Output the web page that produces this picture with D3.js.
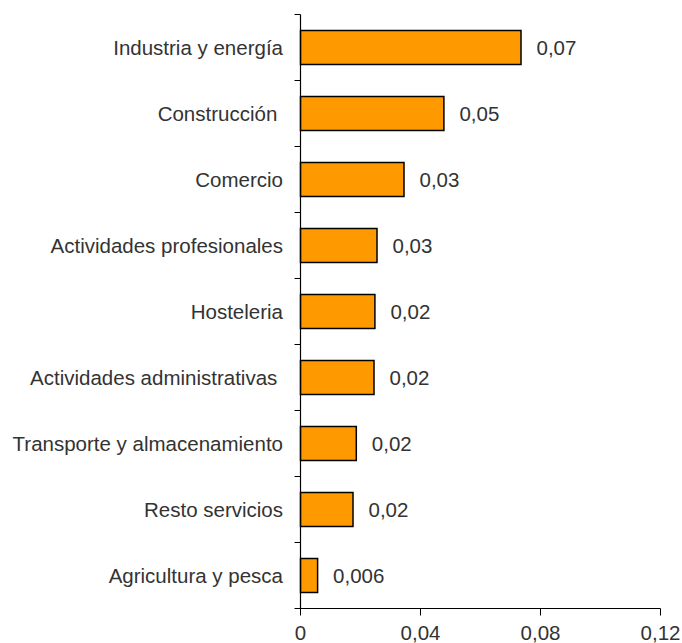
<!DOCTYPE html>
<html><head><meta charset="utf-8">
<script src="https://cdn.jsdelivr.net/npm/d3@7"></script>
<style>body{margin:0;background:#fff}svg{display:block}text{white-space:pre}</style>
</head><body><svg id="c" width="682" height="643"></svg>
<script>
const categories = ["Industria y energía","Construcción ","Comercio","Actividades profesionales","Hosteleria","Actividades administrativas ","Transporte y almacenamiento","Resto servicios","Agricultura y pesca"];
const values = [0.0735,0.0478,0.0345,0.0255,0.0248,0.0245,0.0186,0.0175,0.0057];
const valueLabels = ["0,07","0,05","0,03","0,03","0,02","0,02","0,02","0,02","0,006"];
const xTicks = [0,0.04,0.08,0.12];
const xTickLabels = ["0","0,04","0,08","0,12"];

const svg = d3.select("#c");
const font = "Liberation Sans, Arial, sans-serif";
const fs = 20.5;
const col = "#333";
const x = d3.scaleLinear().domain([0,0.12]).range([300.5,660.5]);
const y = d3.scaleBand().domain(categories).range([14.5,608.5]).paddingInner(0.485).paddingOuter(0.2425);

svg.selectAll("rect.bar").data(values).join("rect")
  .attr("x", x(0)).attr("y",(d,i)=>y(categories[i]))
  .attr("width", d=>x(d)-x(0)).attr("height", y.bandwidth())
  .attr("fill","#FF9900").attr("stroke","#000").attr("stroke-width",1.5);

// y axis
const g = svg.append("g");
g.append("line").attr("x1",x(0)).attr("x2",x(0)).attr("y1",14.5).attr("y2",608.5).attr("stroke","#000").attr("stroke-width",1.2);
const step = y.step();
const bounds = d3.range(categories.length+1).map(i=>14.5+i*step);
g.selectAll("line.yt").data(bounds).join("line").attr("x1",x(0)-6).attr("x2",x(0)).attr("y1",d=>d).attr("y2",d=>d).attr("stroke","#000").attr("stroke-width",1);
// x axis
g.append("line").attr("x1",x(0)).attr("x2",x(0.12)).attr("y1",608.5).attr("y2",608.5).attr("stroke","#000").attr("stroke-width",1.2);
g.selectAll("line.xt").data(xTicks).join("line").attr("x1",d=>x(d)).attr("x2",d=>x(d)).attr("y1",608.5).attr("y2",615.5).attr("stroke","#000").attr("stroke-width",1);
g.selectAll("text.xl").data(xTicks).join("text").attr("x",d=>x(d)).attr("y",640)
  .attr("text-anchor","middle").attr("font-family",font).attr("font-size",fs).attr("fill",col)
  .text((d,i)=>xTickLabels[i]);

// category labels
svg.selectAll("text.cat").data(categories).join("text")
  .attr("x",283).attr("y",d=>y(d)+y.bandwidth()/2).attr("dy","0.35em")
  .attr("text-anchor","end").attr("font-family",font).attr("font-size",fs).attr("fill",col)
  .text(d=>d);

// value labels
svg.selectAll("text.val").data(values).join("text")
  .attr("x",d=>x(d)+15.5).attr("y",(d,i)=>y(categories[i])+y.bandwidth()/2).attr("dy","0.35em")
  .attr("font-family",font).attr("font-size",fs).attr("fill",col)
  .text((d,i)=>valueLabels[i]);
</script></body></html>
